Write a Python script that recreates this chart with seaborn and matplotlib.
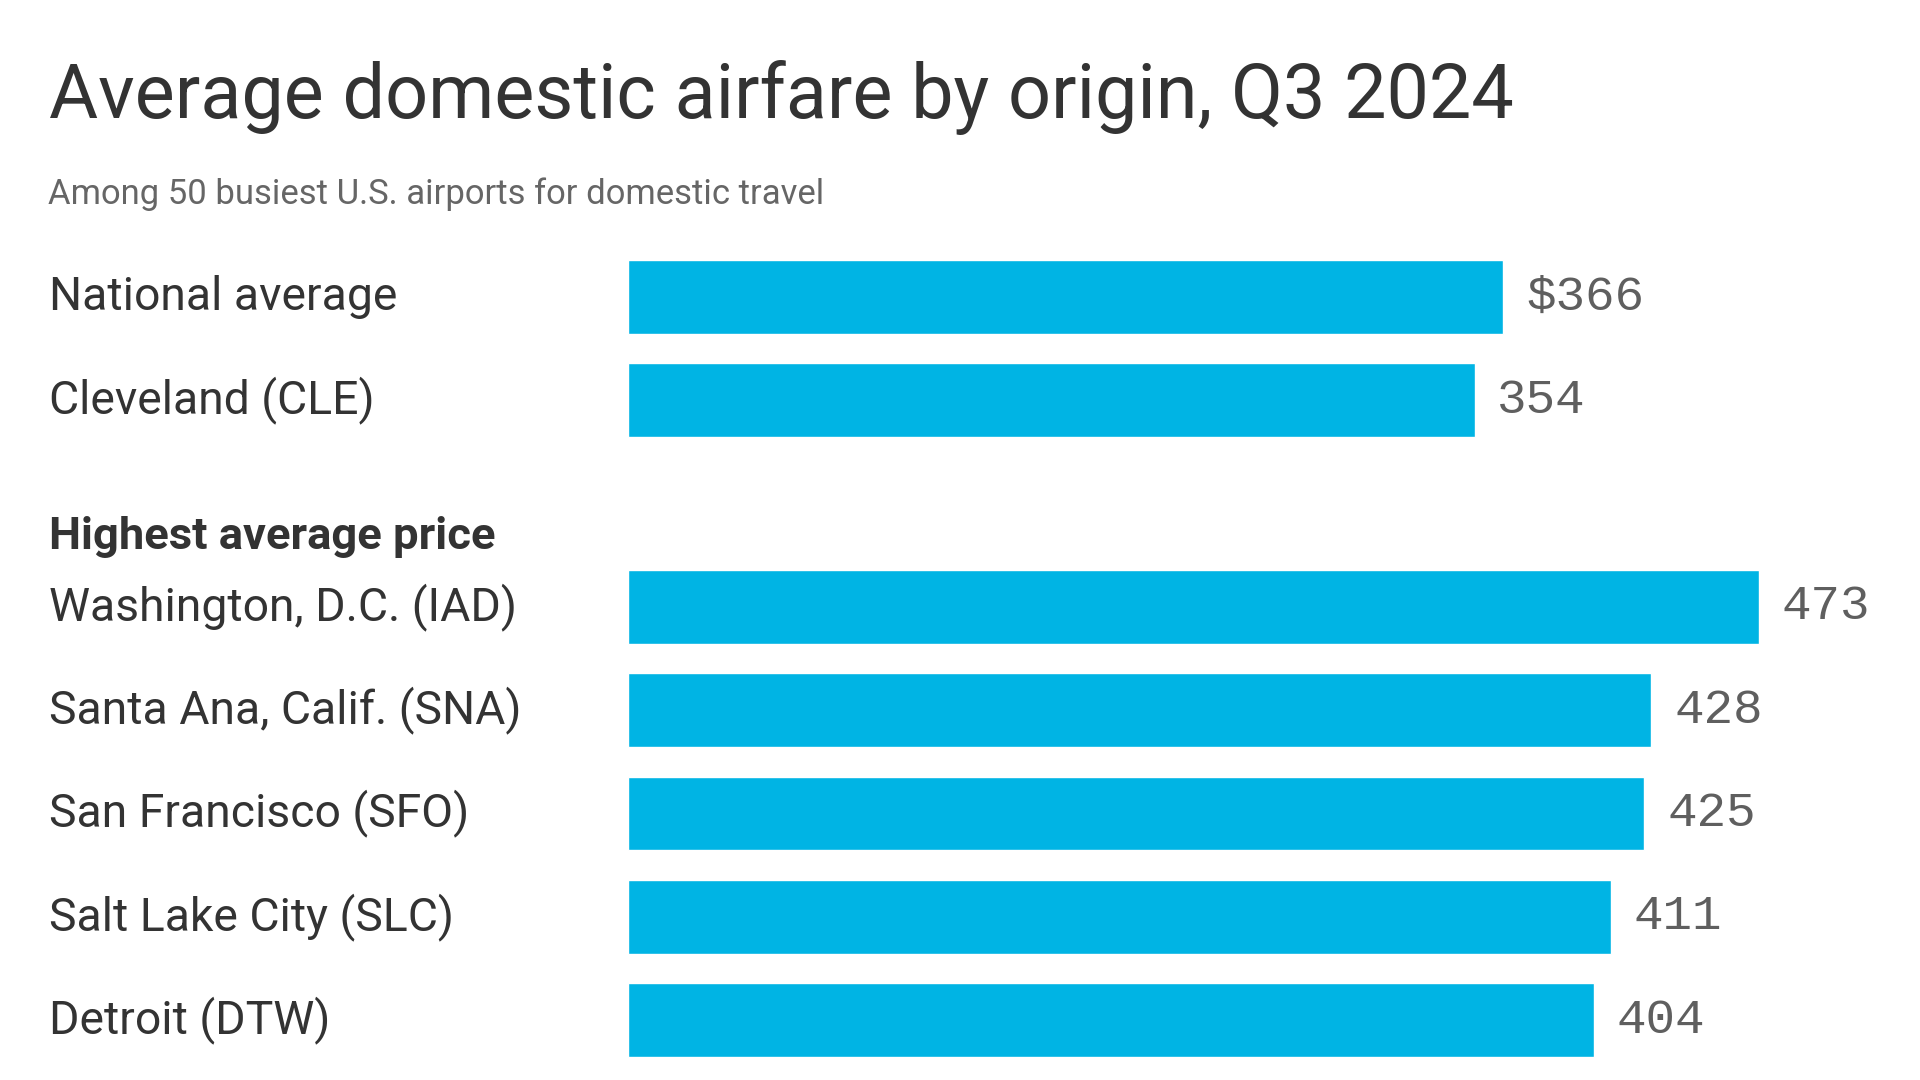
import matplotlib
matplotlib.use("Agg")
import matplotlib.pyplot as plt
import matplotlib.transforms as mtransforms
import seaborn as sns
import pandas as pd

# ---- data ----
top_labels = ["National average", "Cleveland (CLE)"]
top_values = [366, 354]
section_header = "Highest average price"
high_labels = ["Washington, D.C. (IAD)", "Santa Ana, Calif. (SNA)",
               "San Francisco (SFO)", "Salt Lake City (SLC)", "Detroit (DTW)"]
high_values = [473, 428, 425, 411, 404]

title = "Average domestic airfare by origin, Q3 2024"
subtitle = "Among 50 busiest U.S. airports for domestic travel"

GAP = " "  # empty slot for the section header
order = top_labels + [GAP] + high_labels
df = pd.DataFrame({"label": top_labels + high_labels,
                   "value": top_values + high_values})
value_texts = [f"${v}" if i == 0 else str(v)
               for i, v in enumerate(top_values + high_values)]

# ---- style ----
sns.set_theme(style="white")
SANS = ["Roboto", "DejaVu Sans"]
MONO = ["Liberation Mono", "DejaVu Sans Mono"]
plt.rcParams["font.family"] = SANS
BAR = "#00B4E4"
DARK = "#333333"
GREY = "#666666"
VALGREY = "#5f5f5f"

fig = plt.figure(figsize=(19.2, 10.8), dpi=100)
ax = fig.add_axes([0.3271, 0.00764, 0.6227, 0.7652])

sns.barplot(data=df, x="value", y="label", order=order, color=BAR,
            width=0.716, orient="h", saturation=1, ax=ax)
ax.set_xlim(0, 500)
ax.set_ylim(len(order) - 0.5, -0.5)
ax.set_xlabel("")
ax.set_ylabel("")
ax.set_xticks([])
ax.set_yticks([])
sns.despine(ax=ax, left=True, bottom=True)

# value labels
cont = ax.containers[0]
ax.bar_label(cont, labels=value_texts, padding=16.5, family=MONO,
             fontsize=35.5, color=VALGREY)

# category labels (left-aligned in figure coords, data y)
blend = mtransforms.blended_transform_factory(fig.transFigure, ax.transData)
lab_texts = []
for i, name in enumerate(order):
    if name.strip():
        t = ax.text(49 / 1920, i, name, transform=blend, ha="left",
                    va="center", fontsize=34, color=DARK)
        lab_texts.append(t)
hdr = ax.text(49 / 1920, 2.44, section_header, transform=blend, ha="left",
              va="baseline", fontsize=34, fontweight="bold", color=DARK)

ttl = fig.text(49 / 1920, 1 - 118 / 1080, title, ha="left", va="baseline",
               fontsize=54, color=DARK)
sub = fig.text(48 / 1920, 1 - 204 / 1080, subtitle, ha="left",
               va="baseline", fontsize=25, color=GREY)

# fit text widths to the reference
fig.canvas.draw()
r = fig.canvas.get_renderer()
def fit(t, target):
    w = t.get_window_extent(r).width
    t.set_fontsize(t.get_fontsize() * target / w)
fit(ttl, 1466)
fit(sub, 777)
fit(hdr, 447)
fit(lab_texts[2], 467)
for t in lab_texts:
    t.set_fontsize(lab_texts[2].get_fontsize())

fig.savefig("out.png", dpi=100, facecolor="white")
